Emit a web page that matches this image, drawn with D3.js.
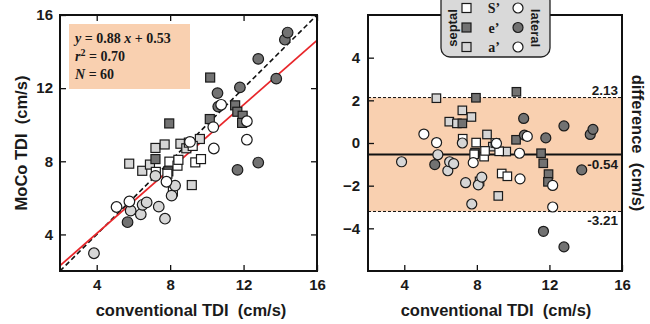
<!DOCTYPE html>
<html>
<head>
<meta charset="utf-8">
<script src="https://cdn.jsdelivr.net/npm/d3@7"></script>
<style>
  body { margin: 0; background: #fff; }
  svg { display: block; font-family: "Liberation Sans", Arial, sans-serif; font-weight: bold; }
  .tick text { font-size: 15px; font-weight: bold; fill: #1a1a1a; }
  .tick line { stroke: #111; stroke-width: 1.3; }
</style>
</head>
<body>
<svg id="chart" width="650" height="324"></svg>
<script>
// values: conventional TDI (cm/s) and MoCo - conventional difference (cm/s)
const septalSConv = [7.22, 7.96, 7.85, 8.40, 8.45, 9.02, 9.23, 9.37, 9.68, 8.15];
const septalSDiff = [0.20, 0.02, -0.53, -0.64, -0.37, 0.00, -0.39, -1.43, -1.56, -1.80];
const septalEConv = [7.20, 7.95, 7.90, 10.18, 10.16, 11.54, 11.66, 11.95, 11.92];
const septalEDiff = [0.92, 2.12, -0.45, 2.40, 0.15, -0.48, -0.95, -1.46, -1.82];
const septalAConv = [5.77, 6.48, 6.90, 7.20, 7.70, 8.56, 8.88, 9.62, 9.18];
const septalADiff = [2.10, 1.00, 0.92, 1.53, 1.22, 0.40, -0.17, -0.40, -2.48];
const lateralSConv = [5.08, 5.78, 7.80, 9.08, 10.35, 10.38, 10.78, 12.18, 12.18];
const lateralSDiff = [0.42, 0.02, -0.92, -0.02, -0.48, -1.68, 0.31, -1.99, -3.00];
const lateralEConv = [5.68, 10.58, 10.62, 11.80, 11.67, 12.80, 12.80, 13.78, 14.25, 14.40];
const lateralEDiff = [-1.01, 1.15, 0.37, 0.24, -4.14, -4.87, 0.80, -1.26, 0.40, 0.64];
const lateralAConv = [3.85, 5.85, 6.40, 6.50, 6.72, 7.20, 7.38, 7.72, 8.08, 8.27];
const lateralADiff = [-0.88, -0.55, -1.30, -0.88, -0.97, 0.00, -1.86, -2.86, -1.96, -1.60];

const fit = { slope: 0.88, intercept: 0.53 };
const meanDiff = -0.54, upperLoA = 2.13, lowerLoA = -3.21;
const xTicks = [4, 8, 12, 16];
const yTicksLeft = [4, 8, 12, 16];
const yTicksRight = [-4, -2, 0, 2, 4];
const legendRows = ["S\u2019", "e\u2019", "a\u2019"];

const fills = { S: "#ffffff", e: "#727272", a: "#d6d6d6" };

// draw order: squares first, circles on top
const groups = [
  { shape: "square", fill: fills.a, conv: septalAConv, diff: septalADiff },
  { shape: "square", fill: fills.e, conv: septalEConv, diff: septalEDiff },
  { shape: "square", fill: fills.S, conv: septalSConv, diff: septalSDiff },
  { shape: "circle", fill: fills.a, conv: lateralAConv, diff: lateralADiff },
  { shape: "circle", fill: fills.e, conv: lateralEConv, diff: lateralEDiff },
  { shape: "circle", fill: fills.S, conv: lateralSConv, diff: lateralSDiff }
];

const svg = d3.select("#chart");

// ---------- left panel: MoCo vs conventional ----------
const xL = d3.scaleLinear().domain([2, 16]).range([60, 317]);
const yL = d3.scaleLinear().domain([2, 16]).range([271, 15]);
const left = svg.append("g");

left.append("defs").append("clipPath").attr("id", "clipL")
  .append("rect").attr("x", 60).attr("y", 15).attr("width", 257).attr("height", 256);

left.append("rect")
  .attr("x", 69).attr("y", 24).attr("width", 121).attr("height", 65)
  .attr("fill", "#f9d0b0");

const eq = left.append("text")
  .attr("font-family", "'Liberation Serif', 'Times New Roman', serif")
  .attr("font-size", 14).attr("fill", "#1a1a1a");
const l1 = eq.append("tspan").attr("x", 75).attr("y", 43);
l1.append("tspan").attr("font-style", "italic").text("y");
l1.append("tspan").text(" = " + fit.slope.toFixed(2) + " ");
l1.append("tspan").attr("font-style", "italic").text("x");
l1.append("tspan").text(" + " + fit.intercept.toFixed(2));
const l2 = eq.append("tspan").attr("x", 75).attr("y", 61);
l2.append("tspan").attr("font-style", "italic").text("r");
l2.append("tspan").attr("dy", -5).attr("font-size", 10).text("2");
l2.append("tspan").attr("dy", 5).text(" = 0.70");
const l3 = eq.append("tspan").attr("x", 75).attr("y", 79);
l3.append("tspan").attr("font-style", "italic").text("N");
l3.append("tspan").text(" = 60");

const lines = left.append("g").attr("clip-path", "url(#clipL)");
lines.append("line")
  .attr("x1", xL(2)).attr("y1", yL(2)).attr("x2", xL(16)).attr("y2", yL(16))
  .attr("stroke", "#111").attr("stroke-width", 1.6).attr("stroke-dasharray", "5,3");
lines.append("line")
  .attr("x1", xL(2)).attr("y1", yL(fit.slope * 2 + fit.intercept))
  .attr("x2", xL(16)).attr("y2", yL(fit.slope * 16 + fit.intercept))
  .attr("stroke", "#e8262a").attr("stroke-width", 1.8);

function drawMarks(g, xs, ys, getY, r, side) {
  groups.forEach(grp => {
    const pts = grp.conv.map((c, i) => ({ c: c, d: grp.diff[i] }));
    if (grp.shape === "circle") {
      g.selectAll(null).data(pts).enter().append("circle")
        .attr("cx", p => xs(p.c)).attr("cy", p => ys(getY(p)))
        .attr("r", r).attr("fill", grp.fill)
        .attr("stroke", "#1a1a1a").attr("stroke-width", 1.2);
    } else {
      g.selectAll(null).data(pts).enter().append("rect")
        .attr("x", p => xs(p.c) - side / 2).attr("y", p => ys(getY(p)) - side / 2)
        .attr("width", side).attr("height", side).attr("fill", grp.fill)
        .attr("stroke", "#1a1a1a").attr("stroke-width", 1.2);
    }
  });
}
drawMarks(left.append("g"), xL, yL, p => p.c + p.d, 5.3, 9);

function inward(axis) { return axis.tickSizeInner(-6).tickSizeOuter(0); }
function addAxis(g, axis, tf) {
  const a = g.append("g").attr("transform", tf).call(axis);
  a.select(".domain").remove();
  return a;
}
addAxis(left, inward(d3.axisBottom(xL)).tickValues(xTicks).tickPadding(8), "translate(0,271)");
addAxis(left, inward(d3.axisTop(xL)).tickValues(xTicks).tickFormat(""), "translate(0,15)");
addAxis(left, inward(d3.axisLeft(yL)).tickValues(yTicksLeft).tickPadding(7), "translate(60,0)");
addAxis(left, inward(d3.axisRight(yL)).tickValues(yTicksLeft).tickFormat(""), "translate(317,0)");

left.append("rect").attr("x", 60).attr("y", 15).attr("width", 257).attr("height", 256)
  .attr("fill", "none").attr("stroke", "#111").attr("stroke-width", 2);

left.append("text").attr("x", 191).attr("y", 316).attr("text-anchor", "middle")
  .attr("font-size", 16.5).attr("fill", "#1a1a1a").attr("xml:space", "preserve")
  .text("conventional TDI  (cm/s)");
left.append("text").attr("transform", "translate(27,143) rotate(-90)")
  .attr("text-anchor", "middle").attr("font-size", 16.5).attr("fill", "#1a1a1a")
  .attr("xml:space", "preserve").text("MoCo TDI  (cm/s)");

// ---------- right panel: Bland-Altman ----------
const xR = d3.scaleLinear().domain([2, 16]).range([368, 622]);
const yR = d3.scaleLinear().domain([-6, 6]).range([271, 15]);
const right = svg.append("g");

right.append("rect")
  .attr("x", 368).attr("y", yR(upperLoA)).attr("width", 254)
  .attr("height", yR(lowerLoA) - yR(upperLoA)).attr("fill", "#f9d0b0");
[upperLoA, lowerLoA].forEach(v => {
  right.append("line").attr("x1", 368).attr("x2", 622).attr("y1", yR(v)).attr("y2", yR(v))
    .attr("stroke", "#111").attr("stroke-width", 1).attr("stroke-dasharray", "3,2");
});
right.append("line").attr("x1", 368).attr("x2", 622).attr("y1", yR(meanDiff)).attr("y2", yR(meanDiff))
  .attr("stroke", "#111").attr("stroke-width", 1.8);

drawMarks(right.append("g"), xR, yR, p => p.d, 5, 8.5);

const lab = right.append("g").attr("font-size", 13.5).attr("fill", "#1a1a1a").attr("text-anchor", "end");
lab.append("text").attr("x", 618).attr("y", yR(upperLoA) - 3).text(upperLoA.toFixed(2));
lab.append("text").attr("x", 618).attr("y", yR(meanDiff) + 14).text(meanDiff.toFixed(2));
lab.append("text").attr("x", 618).attr("y", yR(lowerLoA) + 14).text(lowerLoA.toFixed(2));

addAxis(right, inward(d3.axisBottom(xR)).tickValues(xTicks).tickPadding(8), "translate(0,271)");
addAxis(right, inward(d3.axisLeft(yR)).tickValues(yTicksRight).tickPadding(8), "translate(368,0)");

right.append("rect").attr("x", 368).attr("y", 15).attr("width", 254).attr("height", 256)
  .attr("fill", "none").attr("stroke", "#111").attr("stroke-width", 2);

right.append("text").attr("x", 496).attr("y", 316).attr("text-anchor", "middle")
  .attr("font-size", 16.5).attr("fill", "#1a1a1a").attr("xml:space", "preserve")
  .text("conventional TDI  (cm/s)");
right.append("text").attr("transform", "translate(632,143) rotate(90)")
  .attr("text-anchor", "middle").attr("font-size", 16.5).attr("fill", "#1a1a1a")
  .attr("xml:space", "preserve").text("difference  (cm/s)");

// legend
const lg = svg.append("g");
lg.append("rect").attr("x", 441).attr("y", -8).attr("width", 109).attr("height", 65)
  .attr("rx", 9).attr("fill", "#d9d9d9").attr("stroke", "#222").attr("stroke-width", 1.3);
lg.append("text").attr("transform", "translate(457,28) rotate(-90)")
  .attr("text-anchor", "middle").attr("font-size", 13).attr("fill", "#1a1a1a").text("septal");
lg.append("text").attr("transform", "translate(531,28) rotate(90)")
  .attr("text-anchor", "middle").attr("font-size", 13).attr("fill", "#1a1a1a").text("lateral");
const rowY = d3.scalePoint().domain(legendRows).range([8, 47]);
const legFill = [fills.S, fills.e, fills.a];
legendRows.forEach((k, i) => {
  lg.append("rect").attr("x", 462).attr("y", rowY(k) - 4.5).attr("width", 9).attr("height", 9)
    .attr("fill", legFill[i]).attr("stroke", "#1a1a1a").attr("stroke-width", 1.2);
  lg.append("text").attr("x", 494).attr("y", rowY(k) + 5).attr("text-anchor", "middle")
    .attr("font-family", "'Liberation Serif', 'Times New Roman', serif")
    .attr("font-size", 14).attr("fill", "#1a1a1a").text(k);
  lg.append("circle").attr("cx", 518).attr("cy", rowY(k)).attr("r", 5)
    .attr("fill", i === 2 ? fills.S : legFill[i]).attr("stroke", "#1a1a1a").attr("stroke-width", 1.2);
});
</script>
</body>
</html>
